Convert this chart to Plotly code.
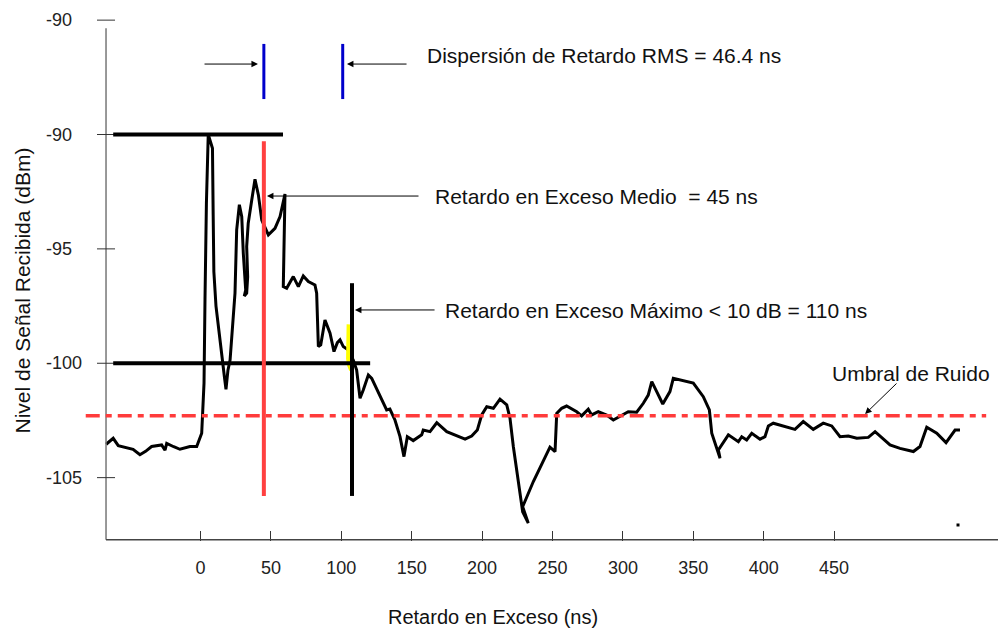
import plotly.graph_objects as go

# ---------------- data ----------------
delay_ns = [
    -67, -62, -58.4, -53, -47.9, -43, -39, -34.7, -27.6, -25.2, -24, -19, -14.6, -7.5, -2.7,
    0.85, 2.5, 3.2, 4.2, 5.5,
    8.5, 9.0, 9.5, 11, 14, 17, 18.1, 19.5, 21, 23, 24.5,
    25.7, 27.6, 29.3, 30.4, 32.1, 31.1, 32.8, 33.5, 32.8, 33.9, 36.4, 38.7, 41.1, 43.5,
    48.2, 52.9, 56.5, 60.0, 58.8, 61.2, 65.9, 69.5, 73.0, 76.6, 81.3, 82.5, 83.7, 85.4,
    88.4, 92.0, 94.8, 97.2, 99.1, 101.4, 105.0,
    108.5, 110.9, 113.3, 115.6, 119.2, 121.6, 127.5, 132.2, 134.5, 138.1, 141.7, 144.5,
    146.9, 151.1, 157.1, 158.2, 163.0, 167.8, 174.9, 182.0, 187.9, 192.6, 196.6, 199.7,
    203.3, 208.0, 212.7, 217.5, 219.8, 222.2, 225.7, 228.8, 232.8, 228.8, 236.4, 245.9,
    248.2, 251.8, 253.0, 256.5, 260.0, 267.2, 270.7, 275.4, 277.8, 282.5, 288.5, 293.2,
    297.9, 303.8, 309.8, 314.5, 318.0, 320.5, 324.0, 328.3, 333.4, 335.8, 350.0, 354.8,
    357.1, 361.4, 363.1, 369.0, 367.8, 374.9, 382.0, 384.4, 387.9, 391.5, 397.4, 400.9,
    403.3, 406.8, 413.9, 422.2, 428.1, 435.2, 442.3, 448.3, 454.2, 460.1, 466.1, 474.3,
    479.1, 489.7, 496.8, 506.3, 511.0, 515.8, 522.9, 529.5, 535.9, 539.4,
]
level_dbm = [
    -103.54, -103.28, -103.6, -103.68, -103.76, -104.0, -103.85, -103.64, -103.57, -103.8, -103.5, -103.65, -103.76, -103.64, -103.64,
    -103.06, -100.87, -97.2, -93.0, -90.0,
    -90.6, -93.5, -96.0, -97.5, -99.2, -100.6, -101.14, -100.3, -99.86, -98.3, -96.94,
    -94.17, -93.07, -93.59, -95.19, -96.80, -97.06, -96.94, -96.22, -94.90, -93.88, -92.86, -91.96, -92.64, -93.74,
    -94.39, -94.10, -93.59, -92.60, -96.65, -96.72, -96.21, -96.65, -96.18, -96.43, -96.58, -96.94, -99.27, -99.20,
    -98.11, -98.69, -99.49, -99.10, -98.98, -99.27, -99.42,
    -99.86, -100.3, -101.53, -101.17, -100.51, -100.66, -101.39, -102.04, -102.0, -102.48, -103.21, -104.08,
    -103.21, -103.38, -103.13, -102.92, -102.99, -102.6, -102.99, -103.18, -103.32, -103.18, -102.92, -102.26,
    -101.9, -101.97, -101.57, -101.82, -102.4, -103.65, -105.24, -106.49, -106.99, -106.27, -105.17, -104.0,
    -103.67, -103.86, -102.19, -101.97, -101.87, -102.12, -102.3, -102.01, -102.26, -102.12, -102.26, -102.48,
    -102.33, -102.12, -102.14, -101.75, -101.39, -100.8, -101.24, -101.78, -101.24, -100.66, -100.87, -101.24,
    -101.46, -102.04, -103.06, -104.15, -103.79, -103.13, -103.43, -103.21, -103.35, -103.06, -103.32, -103.21,
    -102.74, -102.62, -102.74, -102.89, -102.55, -102.89, -102.62, -102.74, -103.21, -103.18, -103.28, -103.24,
    -102.99, -103.57, -103.72, -103.86, -103.64, -102.8, -103.06, -103.47, -102.92, -102.92,
]

yellow_x = [105.2, 104.9, 104.8, 105.6, 107.0]
yellow_y = [-98.3, -99.0, -99.8, -100.1, -100.3]

x_tick_vals = [0, 50, 100, 150, 200, 250, 300, 350, 400, 450]
x_tick_text = ["0", "50", "100", "150", "200", "250", "300", "350", "400", "450"]
y_tick_vals = [-85, -90, -95, -100, -105]
y_tick_text = ["-90", "-90", "-95", "-100", "-105"]

noise_threshold = -102.3
mean_delay = 45
max_delay = 107.6
rms_bounds = [45, 101]
top_level = -90
ten_db_level = -100

# axis geometry (data units)
X_MIN, X_MAX = -85.58, 566.4
Y_MIN, Y_MAX = -107.77, -84.12
AXIS_X = -67.1
AXIS_Y = -107.72
AXIS_Y_TOP = -85.35
TICK_HALF = 6.4

FONT = "Arial, 'Liberation Sans', sans-serif"

fig = go.Figure()
fig.add_trace(go.Scatter(x=delay_ns, y=level_dbm, mode="lines",
                         line=dict(color="black", width=3), hoverinfo="skip"))
fig.add_trace(go.Scatter(x=yellow_x, y=yellow_y, mode="lines",
                         line=dict(color="#FFFF00", width=4), hoverinfo="skip"))
fig.add_trace(go.Scatter(x=[538], y=[-107.07], mode="markers",
                         marker=dict(color="black", size=3, symbol="square"), hoverinfo="skip"))

shapes = []
# axis lines
shapes.append(dict(type="line", xref="x", yref="y", x0=AXIS_X, x1=AXIS_X, y0=AXIS_Y, y1=AXIS_Y_TOP,
                   line=dict(color="#777777", width=1.5)))
shapes.append(dict(type="line", xref="x", yref="y", x0=AXIS_X, x1=X_MAX, y0=AXIS_Y, y1=AXIS_Y,
                   line=dict(color="#444444", width=1.5)))
for v in y_tick_vals:
    shapes.append(dict(type="line", xref="x", yref="y", x0=AXIS_X - TICK_HALF, x1=AXIS_X + TICK_HALF,
                       y0=v, y1=v, line=dict(color="#333333", width=1)))
# noise threshold
shapes.append(dict(type="line", xref="x", yref="y", x0=-81.5, x1=558, y0=noise_threshold, y1=noise_threshold,
                   line=dict(color="#FF3B3B", width=3.5, dash="14px,6px,6px,6px")))
# horizontal reference levels
shapes.append(dict(type="line", xref="x", yref="y", x0=-62, x1=58.6, y0=top_level, y1=top_level,
                   line=dict(color="black", width=4)))
shapes.append(dict(type="line", xref="x", yref="y", x0=-62, x1=120.5, y0=ten_db_level, y1=ten_db_level,
                   line=dict(color="black", width=4)))
# mean delay (red)
shapes.append(dict(type="line", xref="x", yref="y", x0=mean_delay, x1=mean_delay, y0=-90.3, y1=-105.8,
                   line=dict(color="#FF4040", width=4)))
# max delay (black)
shapes.append(dict(type="line", xref="x", yref="y", x0=max_delay, x1=max_delay, y0=-96.5, y1=-105.8,
                   line=dict(color="black", width=4)))
# rms bars (blue)
for b in rms_bounds:
    shapes.append(dict(type="line", xref="x", yref="y", x0=b, x1=b, y0=-86.04, y1=-88.45,
                       line=dict(color="#0000CC", width=3)))

annotations = []
for v, t in zip(y_tick_vals, y_tick_text):
    annotations.append(dict(x=AXIS_X, y=v, xref="x", yref="y", text=t, showarrow=False,
                            xanchor="left", xshift=-62, font=dict(size=18, color="#222", family=FONT)))

def arrow(hx, hy, tx, ty):
    annotations.append(dict(x=hx, y=hy, ax=tx, ay=ty, xref="x", yref="y", axref="x", ayref="y",
                            text="", showarrow=True, arrowhead=2, arrowsize=1.3, arrowwidth=1,
                            arrowcolor="black"))

arrow(40.8, -86.92, 1.8, -86.92)
arrow(104.0, -86.92, 147.4, -86.92)
arrow(47.2, -92.69, 155.9, -92.69)
arrow(109.7, -97.67, 167.3, -97.67)
arrow(472.0, -102.22, 495.4, -100.82)

def label(x, y, t):
    annotations.append(dict(x=x, y=y, xref="x", yref="y", text=t, showarrow=False, xanchor="left",
                            yanchor="middle", font=dict(size=21, color="#111", family=FONT)))

label(159.4, -86.53, "Dispersión de Retardo RMS = 46.4 ns")
label(165.1, -92.69, "Retardo en Exceso Medio  = 45 ns")
label(172.2, -97.7, "Retardo en Exceso Máximo &lt; 10 dB = 110 ns")
label(447.0, -100.43, "Umbral de Ruido")

# axis titles
annotations.append(dict(x=0.5, y=0, xref="paper", yref="paper", text="Retardo en Exceso (ns)",
                        showarrow=False, xanchor="center", yanchor="middle", xshift=-46, yshift=-76,
                        font=dict(size=20, color="#111", family=FONT)))
annotations.append(dict(x=0, y=0.5, xref="paper", yref="paper", text="Nivel de Señal Recibida (dBm)",
                        showarrow=False, textangle=-90, xanchor="center", yanchor="middle",
                        xshift=-58, yshift=-20, font=dict(size=21, color="#111", family=FONT)))

fig.update_layout(
    width=998, height=631,
    margin=dict(l=80, r=0, t=0, b=90),
    paper_bgcolor="white", plot_bgcolor="white",
    showlegend=False,
    shapes=shapes, annotations=annotations,
    font=dict(family=FONT, size=18, color="#222"),
    xaxis=dict(range=[X_MIN, X_MAX], tickvals=x_tick_vals, ticktext=x_tick_text,
               ticks="inside", ticklen=10, tickcolor="#333", tickwidth=1,
               showline=False, showgrid=False, zeroline=False, ticklabelstandoff=14,
               tickfont=dict(size=18, color="#222", family=FONT), fixedrange=True),
    yaxis=dict(range=[Y_MIN, Y_MAX], showticklabels=False, ticks="", showline=False,
               showgrid=False, zeroline=False, fixedrange=True),
)

fig.write_html("out.html")
